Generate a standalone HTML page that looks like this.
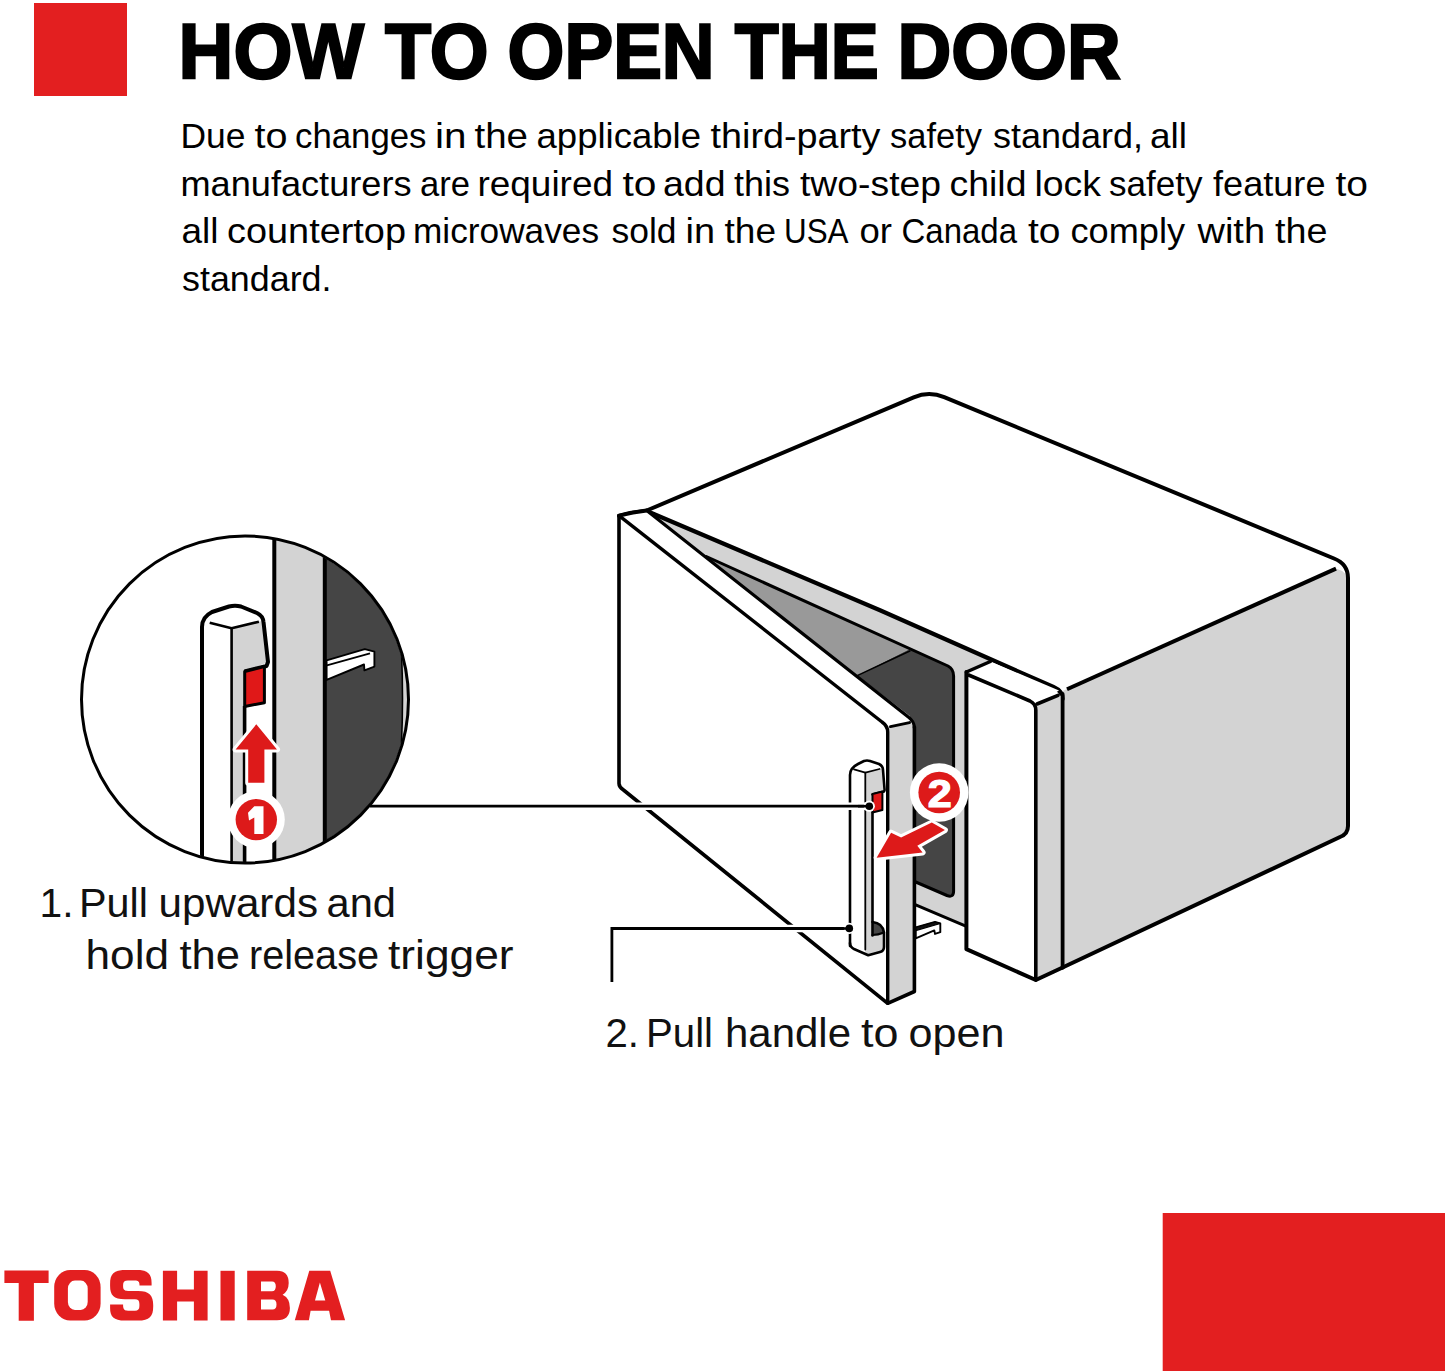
<!DOCTYPE html>
<html><head><meta charset="utf-8">
<style>
html,body{margin:0;padding:0;background:#fff;width:1445px;height:1371px;overflow:hidden}
svg{display:block;position:absolute;left:0;top:0}
text{font-family:"Liberation Sans",sans-serif}
</style></head>
<body>
<svg width="1445" height="1371" viewBox="0 0 1445 1371">
<defs>
<clipPath id="cc"><circle cx="245" cy="699.5" r="162.5"/></clipPath>
</defs>
<!-- header -->
<rect x="34" y="3" width="93" height="93" fill="#e31f20"/>
<g id="texts">
<text id="t_how" x="178.60" y="78.35" font-size="77.2" font-weight="bold" stroke="#000" stroke-width="2.3" textLength="185.40" lengthAdjust="spacingAndGlyphs">HOW</text>
<text id="t_to" x="385.00" y="78.35" font-size="77.2" font-weight="bold" stroke="#000" stroke-width="2.3" textLength="103.60" lengthAdjust="spacingAndGlyphs">TO</text>
<text id="t_open" x="507.60" y="78.35" font-size="77.2" font-weight="bold" stroke="#000" stroke-width="2.3" textLength="207.00" lengthAdjust="spacingAndGlyphs">OPEN</text>
<text id="t_the" x="734.80" y="78.35" font-size="77.2" font-weight="bold" stroke="#000" stroke-width="2.3" textLength="143.80" lengthAdjust="spacingAndGlyphs">THE</text>
<text id="t_door" x="897.40" y="78.35" font-size="77.2" font-weight="bold" stroke="#000" stroke-width="2.3" textLength="223.40" lengthAdjust="spacingAndGlyphs">DOOR</text>
<text id="w0" x="180.50" y="148.2" font-size="35.2" textLength="65.00" lengthAdjust="spacingAndGlyphs">Due</text>
<text id="w1" x="254.50" y="148.2" font-size="35.2" textLength="33.00" lengthAdjust="spacingAndGlyphs">to</text>
<text id="w2" x="295.00" y="148.2" font-size="35.2" textLength="131.50" lengthAdjust="spacingAndGlyphs">changes</text>
<text id="w3" x="435.00" y="148.2" font-size="35.2" textLength="31.50" lengthAdjust="spacingAndGlyphs">in</text>
<text id="w4" x="474.50" y="148.2" font-size="35.2" textLength="53.50" lengthAdjust="spacingAndGlyphs">the</text>
<text id="w5" x="536.50" y="148.2" font-size="35.2" textLength="164.50" lengthAdjust="spacingAndGlyphs">applicable</text>
<text id="w6" x="710.50" y="148.2" font-size="35.2" textLength="170.00" lengthAdjust="spacingAndGlyphs">third-party</text>
<text id="w7" x="890.00" y="148.2" font-size="35.2" textLength="92.00" lengthAdjust="spacingAndGlyphs">safety</text>
<text id="w8" x="993.00" y="148.2" font-size="35.2" textLength="150.00" lengthAdjust="spacingAndGlyphs">standard,</text>
<text id="w9" x="1150.00" y="148.2" font-size="35.2" textLength="37.00" lengthAdjust="spacingAndGlyphs">all</text>
<text id="w10" x="180.50" y="195.8" font-size="35.2" textLength="231.00" lengthAdjust="spacingAndGlyphs">manufacturers</text>
<text id="w11" x="420.00" y="195.8" font-size="35.2" textLength="50.00" lengthAdjust="spacingAndGlyphs">are</text>
<text id="w12" x="477.50" y="195.8" font-size="35.2" textLength="135.50" lengthAdjust="spacingAndGlyphs">required</text>
<text id="w13" x="622.50" y="195.8" font-size="35.2" textLength="34.00" lengthAdjust="spacingAndGlyphs">to</text>
<text id="w14" x="663.00" y="195.8" font-size="35.2" textLength="62.50" lengthAdjust="spacingAndGlyphs">add</text>
<text id="w15" x="734.00" y="195.8" font-size="35.2" textLength="56.00" lengthAdjust="spacingAndGlyphs">this</text>
<text id="w16" x="800.00" y="195.8" font-size="35.2" textLength="141.00" lengthAdjust="spacingAndGlyphs">two-step</text>
<text id="w17" x="949.50" y="195.8" font-size="35.2" textLength="77.00" lengthAdjust="spacingAndGlyphs">child</text>
<text id="w18" x="1034.50" y="195.8" font-size="35.2" textLength="66.50" lengthAdjust="spacingAndGlyphs">lock</text>
<text id="w19" x="1109.00" y="195.8" font-size="35.2" textLength="93.50" lengthAdjust="spacingAndGlyphs">safety</text>
<text id="w20" x="1213.00" y="195.8" font-size="35.2" textLength="112.50" lengthAdjust="spacingAndGlyphs">feature</text>
<text id="w21" x="1335.50" y="195.8" font-size="35.2" textLength="32.50" lengthAdjust="spacingAndGlyphs">to</text>
<text id="w22" x="181.50" y="243.4" font-size="35.2" textLength="37.00" lengthAdjust="spacingAndGlyphs">all</text>
<text id="w23" x="227.00" y="243.4" font-size="35.2" textLength="179.00" lengthAdjust="spacingAndGlyphs">countertop</text>
<text id="w24" x="413.00" y="243.4" font-size="35.2" textLength="186.00" lengthAdjust="spacingAndGlyphs">microwaves</text>
<text id="w25" x="611.50" y="243.4" font-size="35.2" textLength="65.00" lengthAdjust="spacingAndGlyphs">sold</text>
<text id="w26" x="685.50" y="243.4" font-size="35.2" textLength="29.50" lengthAdjust="spacingAndGlyphs">in</text>
<text id="w27" x="724.50" y="243.4" font-size="35.2" textLength="51.50" lengthAdjust="spacingAndGlyphs">the</text>
<text id="w28" x="784.00" y="243.4" font-size="35.2" textLength="64.50" lengthAdjust="spacingAndGlyphs">USA</text>
<text id="w29" x="859.50" y="243.4" font-size="35.2" textLength="32.50" lengthAdjust="spacingAndGlyphs">or</text>
<text id="w30" x="901.50" y="243.4" font-size="35.2" textLength="115.50" lengthAdjust="spacingAndGlyphs">Canada</text>
<text id="w31" x="1028.00" y="243.4" font-size="35.2" textLength="32.50" lengthAdjust="spacingAndGlyphs">to</text>
<text id="w32" x="1070.50" y="243.4" font-size="35.2" textLength="114.50" lengthAdjust="spacingAndGlyphs">comply</text>
<text id="w33" x="1197.50" y="243.4" font-size="35.2" textLength="67.50" lengthAdjust="spacingAndGlyphs">with</text>
<text id="w34" x="1275.00" y="243.4" font-size="35.2" textLength="52.50" lengthAdjust="spacingAndGlyphs">the</text>
<text id="w35" x="182.00" y="291.0" font-size="35.2" textLength="149.50" lengthAdjust="spacingAndGlyphs">standard.</text>
<text id="c1a" x="39.50" y="916.5" font-size="41" fill="#111" textLength="34.00" lengthAdjust="spacingAndGlyphs">1.</text>
<text id="cw0" x="79.00" y="916.5" font-size="41" fill="#111" textLength="69.00" lengthAdjust="spacingAndGlyphs">Pull</text>
<text id="cw1" x="158.50" y="916.5" font-size="41" fill="#111" textLength="159.50" lengthAdjust="spacingAndGlyphs">upwards</text>
<text id="cw2" x="326.50" y="916.5" font-size="41" fill="#111" textLength="69.50" lengthAdjust="spacingAndGlyphs">and</text>
<text id="cw3" x="85.50" y="969.4" font-size="41" fill="#111" textLength="83.50" lengthAdjust="spacingAndGlyphs">hold</text>
<text id="cw4" x="179.50" y="969.4" font-size="41" fill="#111" textLength="60.50" lengthAdjust="spacingAndGlyphs">the</text>
<text id="cw5" x="249.00" y="969.4" font-size="41" fill="#111" textLength="130.00" lengthAdjust="spacingAndGlyphs">release</text>
<text id="cw6" x="388.00" y="969.4" font-size="41" fill="#111" textLength="125.50" lengthAdjust="spacingAndGlyphs">trigger</text>
<text id="c3a" x="605.50" y="1047.3" font-size="41" fill="#111" textLength="33.50" lengthAdjust="spacingAndGlyphs">2.</text>
<text id="cw7" x="646.00" y="1047.3" font-size="41" fill="#111" textLength="67.00" lengthAdjust="spacingAndGlyphs">Pull</text>
<text id="cw8" x="725.00" y="1047.3" font-size="41" fill="#111" textLength="126.00" lengthAdjust="spacingAndGlyphs">handle</text>
<text id="cw9" x="861.00" y="1047.3" font-size="41" fill="#111" textLength="37.50" lengthAdjust="spacingAndGlyphs">to</text>
<text id="cw10" x="908.50" y="1047.3" font-size="41" fill="#111" textLength="96.00" lengthAdjust="spacingAndGlyphs">open</text>
</g>

<!-- ===== MICROWAVE ===== -->
<g stroke="#000" stroke-linejoin="round" stroke-linecap="round" fill="none">
<!-- side face -->
<path d="M1062.6,691 L1336,568.6 Q1348,572 1348,582 L1348,826 Q1348,834 1340,837 L1062.6,967.5 Z" fill="#d3d3d3" stroke="none"/>
<!-- frame light gray -->
<path d="M646.7,511 L880,610.2 L990.4,661 L966.4,672 L966.4,926.4 L915.7,904.9 L914.4,721 Z" fill="#d3d3d3" stroke="none"/>
<!-- medium gray ceiling -->
<path d="M706.3,556.5 L909.8,648.7 L857.2,675.6 Z" fill="#999" stroke="none"/>
<!-- dark cavity -->
<path d="M857.2,675.6 L909.8,649 L948,666 Q953.6,669 953.6,676 L953.6,891 Q953.6,898 947,895.5 L915.7,882 L910,882 L910,716 Z" fill="#454545" stroke="none"/>
<!-- separation line -->
<path d="M857.2,675.6 L909.8,651" stroke-width="1.6"/>
<!-- line 3 cavity outline -->
<path d="M706.3,556.5 L948,666 Q953.6,669 953.6,676 L953.6,891 Q953.6,898 947,895.5 L915.7,882" stroke-width="3"/>
<!-- frame bottom -->
<path d="M915.7,904.9 L966.4,926.4" stroke-width="3"/>
<!-- top face outline -->
<path d="M619,515.7 Q633,512 646.7,510.5 L913.7,397.3 Q928.9,390.8 944.2,397.1 L1334,558.5 Q1348,564 1348,578 L1348,826 Q1348,834 1340,837 L1062.6,967.5" stroke-width="4"/>
<!-- line 4 top face front edge -->
<path d="M646.7,511 L880,610.2 L1037.5,680 L1053.5,687 Q1062.6,691 1062.6,699" stroke-width="4.2"/>
<!-- side/top boundary -->
<path d="M1067,689.3 L1336,568.6" stroke-width="4" stroke-linecap="butt"/>
<!-- control panel -->
<path d="M966.4,672 L990.4,661.5 L1059,690.5 L1036.4,704 L968.6,675 Z" fill="#fff" stroke="none"/>
<path d="M968.6,675 L1030,701 Q1035.8,704 1035.8,710 L1035.8,980 L966.4,949.2 Z" fill="#fff" stroke="none"/>
<path d="M1035.8,706 L1059,694.7 L1062.6,697 L1062.6,967.5 L1035.8,980 Z" fill="#d3d3d3" stroke="none"/>
<path d="M966.4,672 L990.4,661.5" stroke-width="3.5"/>
<path d="M966.4,672 L966.4,949.2 L1035.8,980 L1062.6,967.5" stroke-width="4"/>
<path d="M968.6,675 L1030,701 Q1035.8,704 1035.8,710 L1035.8,980" stroke-width="3.6"/>
<path d="M1037,704 L1058,695.3" stroke-width="3.6"/>
<path d="M1062.6,694 L1062.6,967.5" stroke-width="3.8"/>
<!-- hook main -->
<path d="M915.7,927.5 L935,922 L940.3,923.5 L940.3,932.2 L935,933.9 L934.3,930.4 L915.7,938.4 Z" fill="#fff" stroke-width="1.9"/><path d="M915.7,927.5 L935,922 L940.3,923.5 L915.7,930.6 Z" fill="#111" stroke-width="1.2"/>

<!-- door -->
<path d="M619,515.7 Q633,512 646.7,510.6 L908,716.8 Q914.4,721.5 914.4,728 L914.4,991.5 L887.7,1003.3 L623.5,790 Q619,787 619,783.5 Z" fill="#fff" stroke="none"/>
<path d="M889,726.8 L910,722.4 L914.4,726 L914.4,991.5 L887.7,1003.3 Z" fill="#d3d3d3" stroke="none"/>
<path d="M619,515.7 L619,783.5 Q619,787 623.5,790 L887.7,1003.3 L914.4,991.5 L914.4,727" stroke-width="3.6"/>
<path d="M619,515.7 Q633,512 646.7,510.6" stroke-width="3.6"/>
<path d="M619,515.7 L882,722 Q887.7,726 887.7,732 L887.7,1003.3" stroke-width="3.4"/>
<path d="M646.7,510.6 L908,716.8 Q914.4,721.5 914.4,728" stroke-width="3.2"/>
<path d="M890.5,726.6 L909.5,722.6" stroke-width="3"/>

<!-- handle main -->
<path d="M850,946 L850,775 Q850,768 858,764 L864,761 Q867,760 870,761 L879,764 Q883,766 883,770 L884.6,790 L872.5,794 L872.5,924 Q880,924 884,932 L884,947 Q884,951 880,952 L868.2,955.2 L854,949 Q850,947 850,943 Z" fill="#fff" stroke="none"/>
<path d="M865.3,772.6 L879.5,769 L883,769 L884.6,790 L872.5,794 L872.5,935 L884,933 L884,947 Q884,951 880,952 L868.2,955.2 L865.3,954 Z" fill="#d3d3d3" stroke="none"/>
<path d="M872.5,922 Q882.5,923 884,932.5 Q878,935 872.5,935 Z" fill="#454545" stroke="none"/>
<path d="M850,946 L850,775 Q850,768 858,764 L864,761 Q867,760 870,761 L879,764 Q883,766 883,770 L884.6,790 L884,791.5 L872.5,794.5" stroke-width="2.6"/>
<path d="M872.5,794 L882.4,791.5 L882.4,810 L872.5,812.5 Z" fill="#e01818" stroke-width="2"/>
<path d="M872.5,812 L872.5,935.5" stroke-width="2.6"/><path d="M872.5,922 Q882.5,923 884,932.5 L884,947 Q884,951 880,952 L868.2,955.2 L854,949 Q850,947 850,943" stroke-width="2.6"/><path d="M872.5,935 Q878,935 884,932.5" stroke-width="2.2"/>
<path d="M854,769.3 L865.3,772.6 L879.5,769" stroke-width="1.8"/>
<path d="M865.3,772.6 L865.3,949.5" stroke-width="1.8"/>
</g>

<!-- connector lines with halo -->
<g fill="none" stroke-linecap="butt">
<path d="M376,806.2 L866,806.2" stroke="#fff" stroke-width="7.5"/>
<path d="M611.9,982 L611.9,928.5 L846,928.5" stroke="#fff" stroke-width="7.5"/>
<path d="M370,806.2 L869.3,806.2" stroke="#000" stroke-width="2.8"/>
<path d="M611.9,982 L611.9,928.5 L849.3,928.5" stroke="#000" stroke-width="2.8"/>
</g>
<circle cx="869.3" cy="806.2" r="5.6" fill="#fff"/><path d="M858,806.2 L869.3,806.2" stroke="#000" stroke-width="2.6"/><circle cx="869.3" cy="806.2" r="3.8" fill="#000"/>
<circle cx="849.3" cy="928.4" r="5.6" fill="#fff"/><path d="M838,928.5 L849.3,928.5" stroke="#000" stroke-width="2.6"/><circle cx="849.3" cy="928.4" r="3.8" fill="#000"/>

<!-- arrow 2 -->
<path d="M876.6,857.7 L891.1,832.7 L901.1,837.5 L931.8,822.6 L944.9,830.1 L917.3,845.8 L922.6,852.4 Z" fill="#dd1a1a" stroke="#fff" stroke-width="6" stroke-linejoin="round" paint-order="stroke"/>
<circle cx="939.2" cy="792.5" r="29.3" fill="#fff"/>
<circle cx="939.2" cy="792.5" r="20.8" fill="#dd1a1a"/>
<text x="939.8" y="806.5" font-size="38" font-weight="bold" fill="#fff" stroke="#fff" stroke-width="1.2" text-anchor="middle" textLength="24" lengthAdjust="spacingAndGlyphs">2</text>

<!-- ===== CIRCLE INSET ===== -->
<g clip-path="url(#cc)">
<rect x="70" y="530" width="360" height="340" fill="#fff"/>
<rect x="276" y="530" width="48" height="340" fill="#d3d3d3"/>
<rect x="326" y="530" width="100" height="340" fill="#454545"/>
<path d="M401.5,652 Q403.5,700 401.5,742 L430,742 L430,652 Z" fill="#d3d3d3" stroke="#000" stroke-width="1.6"/>
<g stroke="#000" fill="none" stroke-linejoin="round">
<path d="M274.3,530 L274.3,870" stroke-width="4"/>
<path d="M324.8,530 L324.8,870" stroke-width="4"/>
<path d="M326.6,660.3 L364.8,649.1 L374.4,651.6 L374.4,666.6 L364.4,670.3 L364,664.5 L326.6,679.9 Z" fill="#fff" stroke-width="1.9"/>
<path d="M326.9,665.3 L370,653.3" stroke-width="1.8"/>
<!-- handle inset -->
<path d="M202,870 L202,627 Q202,617 212,612 L229,606.5 Q235,604.8 241,606.5 L257,613 Q263,616 263.5,622 L268,662 L244.5,671.5 L244.5,870 Z" fill="#fff" stroke="none"/>
<path d="M231.6,628.3 L259,621.5 L263.5,621 L268,662 L244.5,671.5 L244.5,870 L231.6,870 Z" fill="#d3d3d3" stroke="none"/>
<path d="M202,870 L202,627 Q202,617 212,612 L229,606.5 Q235,604.8 241,606.5 L257,613 Q263,616 263.5,622 L268,662 L266.5,666 L244.5,671.5" stroke-width="4"/>
<path d="M231.6,628.3 L231.6,870" stroke-width="2.6"/>
<path d="M209.7,622.8 L231.6,628.3 L258.9,621.7" stroke-width="2.6"/>
<path d="M244.7,671.5 L264.4,666.6 L264.4,702.7 L244.7,706.5 Z" fill="#e01818" stroke-width="3"/>
<path d="M244.6,706 L244.6,870" stroke-width="3.6"/>
</g>
<!-- arrow 1 -->
<path d="M256.3,724.3 L277,749.5 L264.4,749.5 L264.4,782.8 L248.2,782.8 L248.2,749.5 L235.6,749.5 Z" fill="#dd1a1a" stroke="#fff" stroke-width="6" stroke-linejoin="round" paint-order="stroke"/>
<circle cx="256.3" cy="819.6" r="28.5" fill="#fff"/>
<circle cx="256.3" cy="819.6" r="20.7" fill="#dd1a1a"/>
<path d="M254.3,806.2 H263.5 V834 H254.3 V817.5 L249,820.5 L248,812.8 Z" fill="#fff"/>
</g>
<circle cx="245" cy="699.5" r="163.5" fill="none" stroke="#000" stroke-width="3"/>

<!-- ===== FOOTER ===== -->
<rect x="1162.7" y="1213" width="283" height="160" fill="#e31f20"/>
<g fill="#e31f20">
<!-- T -->
<path d="M4.4,1270.6 H48.6 V1283 H33.9 V1320.8 H18.7 V1283 H4.4 Z"/>
<!-- O -->
<rect x="54.2" y="1270" width="46.4" height="50.6" rx="16" ry="17"/>
<rect x="67.9" y="1280.6" width="19.8" height="29.3" rx="7" ry="8" fill="#fff"/>
<!-- S -->
<path d="M126,1270 H137 C148,1270 151.6,1274 151.6,1283 V1285.6 H139.5 V1285 C139.5,1281.5 138,1280.6 135,1280.6 H128 C124.5,1280.6 123.1,1282 123.1,1285 V1286.5 C123.1,1289.5 124.5,1290.9 128,1290.9 H138 C149.5,1290.9 153.2,1295.5 153.2,1305 V1306.5 C153.2,1316.5 149.5,1320.6 138,1320.6 H125 C113.5,1320.6 110.1,1316.5 110.1,1308 V1304.6 H123.1 V1305.5 C123.1,1309 124.5,1310.7 128,1310.7 H135 C138,1310.7 139.4,1309.3 139.4,1306 V1304 C139.4,1300.7 138,1299.3 135,1299.3 H125 C113.5,1299.3 110.1,1295 110.1,1286 V1284 C110.1,1274 113.5,1270 126,1270 Z"/>
<!-- H -->
<path d="M162.9,1270.8 H177.1 V1289.6 H193.9 V1270.8 H207.6 V1320.5 H193.9 V1301.4 H177.1 V1320.5 H162.9 Z"/>
<!-- I -->
<rect x="220.5" y="1270.8" width="14.2" height="49.7"/>
<!-- B -->
<path fill-rule="evenodd" d="M247.2,1270.7 H277 Q288.7,1270.7 288.7,1283 Q288.7,1291 282.6,1294.7 Q289.9,1298 289.9,1308 Q289.9,1320.2 277,1320.2 H247.2 Z M261,1281.4 V1291.3 H272 Q275.8,1291.3 275.8,1286.3 Q275.8,1281.4 272,1281.4 Z M261,1299.6 V1309.5 H272.5 Q276.5,1309.5 276.5,1304.5 Q276.5,1299.6 272.5,1299.6 Z"/>
<!-- A -->
<path fill-rule="evenodd" d="M309.3,1270.7 H330.2 L345.1,1320.2 H331 L329.1,1310.7 H310.6 L308.9,1320.2 H294.8 Z M319.9,1282.5 L315,1300.4 H325.3 Z"/>
</g>
</svg>
</body></html>
